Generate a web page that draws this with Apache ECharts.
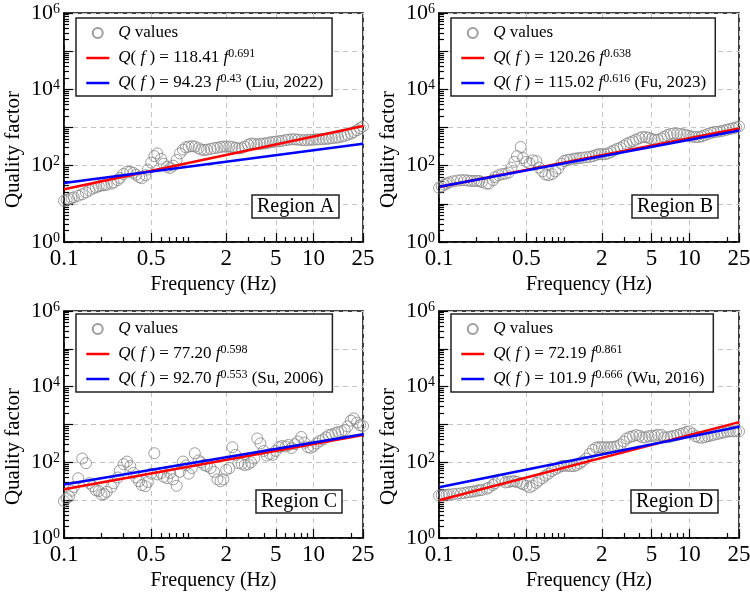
<!DOCTYPE html>
<html>
<head>
<meta charset="utf-8">
<script src="https://cdn.jsdelivr.net/npm/echarts@6/dist/echarts.min.js"></script>
<style>
  html, body { margin: 0; padding: 0; background: #fff; }
  #chart { width: 750px; height: 598px; }
</style>
</head>
<body>
<div id="chart"></div>
<script>
// frequencies (Hz) shared by all four regions
const freq = [
  0.10, 0.105, 0.11, 0.115, 0.12, 0.13, 0.14, 0.15, 0.16, 0.17,
  0.18, 0.19, 0.20, 0.21, 0.22, 0.24, 0.25, 0.27, 0.28, 0.30,
  0.32, 0.34, 0.36, 0.38, 0.40, 0.42, 0.45, 0.47, 0.50, 0.53,
  0.56, 0.60, 0.63, 0.67, 0.71, 0.75, 0.80, 0.85, 0.90, 0.95,
  1.0, 1.06, 1.12, 1.2, 1.26, 1.33, 1.4, 1.5, 1.6, 1.7,
  1.8, 1.9, 2.0, 2.12, 2.24, 2.37, 2.5, 2.66, 2.82, 3.0,
  3.16, 3.35, 3.55, 3.76, 4.0, 4.22, 4.47, 4.73, 5.0, 5.3,
  5.6, 6.0, 6.3, 6.7, 7.1, 7.5, 8.0, 8.5, 9.0, 9.5,
  10, 10.6, 11.2, 11.9, 12.6, 13.3, 14.1, 15, 15.8, 16.8,
  17.8, 18.8, 20, 21.1, 22.4, 23.7, 25
]

// Q values
const qA = [
  12.0, 12.6, 13.2, 14.1, 14.8, 16.2, 17.8, 20.0, 22.4, 25.1,
  26.9, 28.8, 30.2, 30.9, 31.6, 33.9, 36.3, 41.7, 47.9, 60.3,
  69.2, 69.2, 64.6, 57.5, 50.1, 46.8, 56.2, 79.4, 120, 178,
  209, 151, 112, 93, 87, 100, 141, 209, 263, 302,
  316, 324, 316, 288, 263, 257, 263, 275, 288, 295,
  309, 316, 316, 316, 309, 295, 282, 288, 316, 355,
  380, 372, 363, 372, 380, 389, 407, 417, 427, 437,
  447, 468, 479, 490, 490, 479, 468, 468, 468, 479,
  479, 490, 490, 501, 501, 513, 525, 537, 550, 575,
  603, 646, 692, 759, 851, 955, 1072
]
const qB = [
  26.3, 28.8, 31.6, 33.9, 36.3, 38.9, 40.7, 41.7, 41.7, 40.7,
  39.8, 39.8, 39.8, 39.8, 37.2, 33.9, 33.9, 41.7, 50.1, 56.2,
  60.3, 61.7, 66.1, 89.1, 126, 178, 309, 158, 126, 115,
  138, 132, 89, 70.8, 58.9, 56.2, 60.3, 70.8, 85.1, 112,
  132, 141, 145, 151, 155, 158, 162, 166, 170, 178,
  191, 200, 200, 200, 209, 229, 251, 275, 295, 331,
  372, 407, 437, 479, 525, 562, 562, 537, 501, 479,
  479, 513, 575, 631, 676, 692, 692, 676, 661, 631,
  603, 575, 562, 562, 589, 631, 676, 724, 759, 776,
  794, 832, 871, 912, 955, 1000, 1072
]
const qC = [
  9.5, 11.2, 12.6, 17.8, 22.4, 38.0, 126, 95, 28.2, 23.4,
  18.2, 17.4, 14.1, 14.5, 16.6, 22.4, 28.2, 39.8, 60.3, 89.1,
  105, 79.4, 52.5, 39.8, 31.6, 25.1, 23.4, 30.2, 50.1, 174,
  47.9, 52.5, 41.7, 38.0, 52.5, 35.5, 24.0, 56.2, 105, 83.2,
  50.1, 70.8, 174, 112, 100, 85.1, 79.4, 70.8, 56.2, 35.5,
  31.6, 35.5, 63.1, 70.8, 251, 158, 95.5, 91.2, 85.1, 89.1,
  100, 126, 427, 316, 200, 151, 166, 158, 200, 251,
  269, 263, 288, 240, 302, 355, 468, 331, 251, 240,
  263, 316, 363, 398, 457, 525, 550, 589, 631, 661,
  708, 891, 1259, 1445, 1122, 955, 912
]
const qD = [
  13.2, 13.5, 13.5, 13.8, 14.1, 14.5, 14.8, 15.1, 15.5, 16.2,
  16.6, 17.0, 17.8, 18.2, 18.6, 20.0, 21.4, 25.1, 28.2, 33.9,
  33.1, 29.5, 30.2, 31.6, 31.6, 30.2, 28.2, 26.3, 24.0, 21.9,
  24.0, 28.8, 33.1, 38.0, 44.7, 50.1, 58.9, 66.1, 72.4, 79.4,
  81.3, 81.3, 79.4, 79.4, 85.1, 93.3, 105, 126, 166, 214,
  245, 251, 251, 251, 251, 251, 257, 269, 295, 355,
  427, 468, 490, 525, 501, 457, 457, 490, 501, 501,
  537, 525, 457, 457, 479, 501, 525, 562, 589, 631,
  661, 575, 490, 457, 447, 468, 490, 513, 537, 562,
  589, 617, 646, 661, 661, 661, 661
]

// fitted power laws, end points at 0.1 and 25 Hz
const fitA = [[0.1, 24.1], [25, 1095]]
const refA = [[0.1, 35.0], [25, 376]]
const fitB = [[0.1, 27.7], [25, 938]]
const refB = [[0.1, 27.9], [25, 835]]
const fitC = [[0.1, 19.5], [25, 529]]
const refC = [[0.1, 25.9], [25, 550]]
const fitD = [[0.1, 9.9], [25, 1154]]
const refD = [[0.1, 22.0], [25, 869]]

// ticks
const xLabelTicks = [0.1, 0.5, 2, 5, 10, 25]
const xMinorTicks = [0.2, 0.3, 0.4, 0.6, 0.7, 0.8, 0.9, 1, 3, 4, 6, 7, 8, 9, 20]
const yMajorTicks = [1, 10, 100, 1000, 10000, 100000, 1000000]
const yLabelTicks = [1, 100, 10000, 1000000]
const yMinorTicks = [
  2, 3, 4, 5, 6, 7, 8, 9,
  20, 30, 40, 50, 60, 70, 80, 90,
  200, 300, 400, 500, 600, 700, 800, 900,
  2000, 3000, 4000, 5000, 6000, 7000, 8000, 9000,
  20000, 30000, 40000, 50000, 60000, 70000, 80000, 90000,
  200000, 300000, 400000, 500000, 600000, 700000, 800000, 900000
]

const panels = [
  { key: 'A', q: qA, fit: fitA, ref: refA, fitTxt: ['118.41', '0.691'], refTxt: ['94.23', '0.43', ' (Liu, 2022)'] },
  { key: 'B', q: qB, fit: fitB, ref: refB, fitTxt: ['120.26', '0.638'], refTxt: ['115.02', '0.616', ' (Fu, 2023)'] },
  { key: 'C', q: qC, fit: fitC, ref: refC, fitTxt: ['77.20', '0.598'], refTxt: ['92.70', '0.553', ' (Su, 2006)'] },
  { key: 'D', q: qD, fit: fitD, ref: refD, fitTxt: ['72.19', '0.861'], refTxt: ['101.9', '0.666', ' (Wu, 2016)'] }
]

// layout of each panel
const layout = [
  { grid: [64, 13, 299, 229], legend: [76, 18], title: [252, 195] },
  { grid: [439, 13, 300, 229], legend: [451, 18], title: [632, 195] },
  { grid: [64, 311, 299, 227], legend: [76, 314], title: [256, 490] },
  { grid: [439, 311, 300, 227], legend: [451, 314], title: [631, 490] }
]

const FONT = "'Times New Roman', 'Liberation Serif', serif"
const COLOR_FIT = '#ff0000'
const COLOR_REF = '#0000ff'
const COLOR_PT = '#858585'

const labelText = {}
panels.forEach(p => {
  labelText['q' + p.key] = '{i|Q}{n| values}'
  labelText['fit' + p.key] = '{i|Q}{n|( }{i|f}{n| ) = ' + p.fitTxt[0] + ' }{i|f}{s|' + p.fitTxt[1] + '}'
  labelText['ref' + p.key] = '{i|Q}{n|( }{i|f}{n| ) = ' + p.refTxt[0] + ' }{i|f}{s|' + p.refTxt[1] + '}{n|' + p.refTxt[2] + '}'
})

const legendRich = {
  n: { fontFamily: FONT, fontSize: 17, lineHeight: 20, color: '#000' },
  i: { fontFamily: FONT, fontSize: 17, lineHeight: 20, fontStyle: 'italic', color: '#000' },
  s: { fontFamily: FONT, fontSize: 12, lineHeight: 11, verticalAlign: 'top', color: '#000' }
}

// hides the dot that line series put in their legend icon
const noDot = { color: 'rgba(0,0,0,0)', borderWidth: 0, opacity: 0 }

const grid = [], xAxis = [], yAxis = [], series = [], legend = [], title = []

panels.forEach((p, i) => {
  const L = layout[i]
  grid.push({
    left: L.grid[0], top: L.grid[1], width: L.grid[2], height: L.grid[3],
    show: true, borderColor: '#000', borderWidth: 1.5, backgroundColor: 'transparent',
    outerBoundsMode: 'none'
  })

  // main x axis: labels, long ticks, dashed grid
  xAxis.push({
    type: 'log', logBase: 10, gridIndex: i, position: 'bottom', min: 0.1, max: 25,
    name: 'Frequency (Hz)', nameLocation: 'middle', nameGap: 33,
    nameTextStyle: { fontFamily: FONT, fontSize: 20, color: '#000' },
    axisLine: { show: true, onZero: false, lineStyle: { color: '#000', width: 1.5 } },
    axisTick: { show: true, inside: true, length: 9, customValues: xLabelTicks, lineStyle: { color: '#000', width: 1.2 } },
    axisLabel: { customValues: xLabelTicks, formatter: v => String(v), fontFamily: FONT, fontSize: 23, color: '#000', margin: 5 },
    splitLine: { show: true, lineStyle: { color: '#c4c4c4', width: 1, type: [5, 4] } }
  })
  // minor ticks
  xAxis.push({
    type: 'log', logBase: 10, gridIndex: i, position: 'bottom', min: 0.1, max: 25,
    axisLine: { show: false },
    axisTick: { show: true, inside: true, length: 5, customValues: xMinorTicks, lineStyle: { color: '#000', width: 1.2 } },
    axisLabel: { show: false },
    splitLine: { show: false }
  })

  yAxis.push({
    type: 'log', logBase: 10, gridIndex: i, position: 'left', min: 1, max: 1000000,
    name: 'Quality factor', nameLocation: 'middle', nameGap: 40,
    nameTextStyle: { fontFamily: FONT, fontSize: 21, color: '#000', padding: [0, 44, 0, 0] },
    axisLine: { show: true, onZero: false, lineStyle: { color: '#000', width: 1.5 } },
    axisTick: { show: true, inside: true, length: 9, customValues: yMajorTicks, lineStyle: { color: '#000', width: 1.2 } },
    axisLabel: {
      customValues: yLabelTicks, margin: 4,
      formatter: v => '{b|10}{s|' + Math.round(Math.log10(v)) + '}',
      rich: {
        b: { fontFamily: FONT, fontSize: 22, lineHeight: 22, color: '#000' },
        s: { fontFamily: FONT, fontSize: 14, lineHeight: 12, verticalAlign: 'top', color: '#000' }
      }
    },
    splitLine: { show: true, lineStyle: { color: '#c4c4c4', width: 1, type: [5, 4] } }
  })
  yAxis.push({
    type: 'log', logBase: 10, gridIndex: i, position: 'left', min: 1, max: 1000000,
    axisLine: { show: false },
    axisTick: { show: true, inside: true, length: 5, customValues: yMinorTicks, lineStyle: { color: '#000', width: 1.2 } },
    axisLabel: { show: false },
    splitLine: { show: false }
  })

  series.push({
    name: 'q' + p.key, type: 'scatter', xAxisIndex: 2 * i, yAxisIndex: 2 * i,
    data: freq.map((f, k) => [f, p.q[k]]),
    symbol: 'circle', symbolSize: 11,
    itemStyle: { color: 'rgba(0,0,0,0)', borderColor: COLOR_PT, borderWidth: 1 },
    emphasis: { disabled: true }, silent: true
  })
  series.push({
    name: 'fit' + p.key, type: 'line', xAxisIndex: 2 * i, yAxisIndex: 2 * i,
    data: p.fit, symbol: 'none', showSymbol: false,
    lineStyle: { color: COLOR_FIT, width: 2.5 }, itemStyle: { color: COLOR_FIT },
    emphasis: { disabled: true }, silent: true
  })
  series.push({
    name: 'ref' + p.key, type: 'line', xAxisIndex: 2 * i, yAxisIndex: 2 * i,
    data: p.ref, symbol: 'none', showSymbol: false,
    lineStyle: { color: COLOR_REF, width: 2.5 }, itemStyle: { color: COLOR_REF },
    emphasis: { disabled: true }, silent: true
  })

  legend.push({
    orient: 'vertical', left: L.legend[0], top: L.legend[1],
    data: [
      { name: 'q' + p.key },
      { name: 'fit' + p.key, itemStyle: noDot },
      { name: 'ref' + p.key, itemStyle: noDot }
    ],
    selectedMode: false,
    itemWidth: 23, itemHeight: 10, itemGap: 5,
    padding: [5, 9, 3, 9],
    backgroundColor: '#fff', borderColor: '#222', borderWidth: 1.5, borderRadius: 0,
    lineStyle: { width: 2.5 },
    formatter: name => labelText[name],
    textStyle: { fontFamily: FONT, fontSize: 17, color: '#000', lineHeight: 20, padding: [0, 0, 0, 4], rich: legendRich }
  })

  title.push({
    text: 'Region ' + p.key, left: L.title[0], top: L.title[1],
    padding: [1, 5, 1, 5],
    backgroundColor: '#fff', borderColor: '#222', borderWidth: 1.5,
    textStyle: { fontFamily: FONT, fontSize: 20, fontWeight: 'normal', color: '#000', lineHeight: 21 }
  })
})

const chart = echarts.init(document.getElementById('chart'), null, { renderer: 'canvas' })
chart.setOption({
  animation: false,
  backgroundColor: '#fff',
  title,
  legend,
  grid,
  xAxis,
  yAxis,
  series
})
</script>
</body>
</html>
